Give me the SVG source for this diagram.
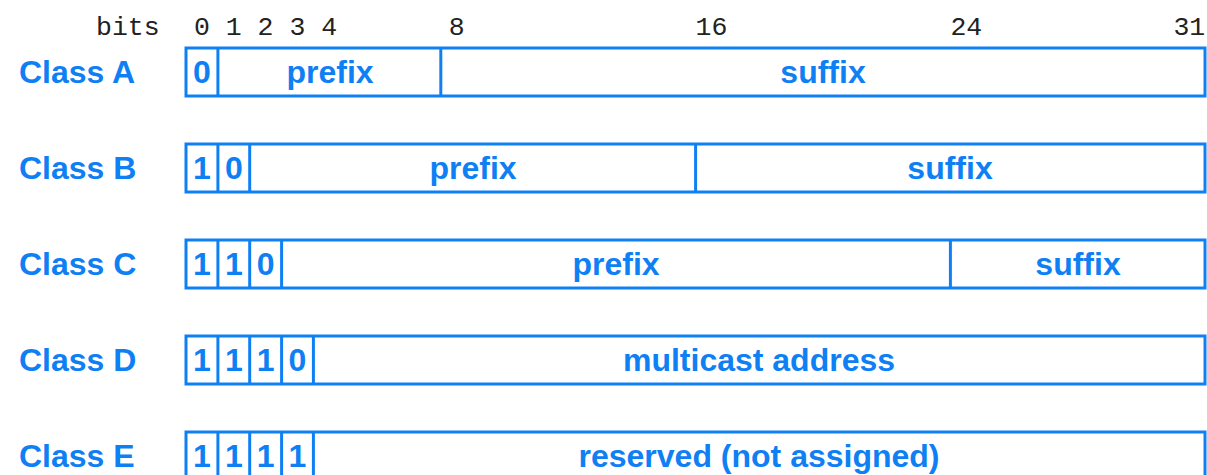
<svg xmlns="http://www.w3.org/2000/svg" width="1207" height="475" viewBox="0 0 1207 475">
<style>
.box{fill:#fff;stroke:#0f80f4;stroke-width:3}
.div{stroke:#0f80f4;stroke-width:3}
.lbl{font-family:"Liberation Sans",Arial,sans-serif;font-weight:bold;font-size:32px;fill:#0f80f4}
.f{font-family:"Liberation Sans",Arial,sans-serif;font-weight:bold;font-size:32px;fill:#0f80f4;text-anchor:middle}
.hd{font-family:"Liberation Mono","Courier New",monospace;font-size:26.5px;fill:#222}
</style>
<g id="header">
<text class="hd" x="96" y="35">bits</text>
<text class="hd" x="194" y="35">0 1 2 3 4</text>
<text class="hd" x="456.7" y="35" text-anchor="middle">8</text>
<text class="hd" x="711.5" y="35" text-anchor="middle">16</text>
<text class="hd" x="966.3" y="35" text-anchor="middle">24</text>
<text class="hd" x="1189.3" y="35" text-anchor="middle">31</text>
</g>
<g id="classA">
<text class="lbl" x="19" y="83">Class A</text>
<rect class="box" x="186" y="48" width="1019" height="48"/>
<line class="div" x1="217.9" y1="48" x2="217.9" y2="96"/>
<line class="div" x1="440.8" y1="48" x2="440.8" y2="96"/>
<text class="f" x="202" y="83">0</text>
<text class="f" x="330" y="83">prefix</text>
<text class="f" x="823" y="83">suffix</text>
</g>
<g id="classB">
<text class="lbl" x="19" y="179">Class B</text>
<rect class="box" x="186" y="144" width="1019" height="48"/>
<line class="div" x1="217.9" y1="144" x2="217.9" y2="192"/>
<line class="div" x1="249.7" y1="144" x2="249.7" y2="192"/>
<line class="div" x1="695.6" y1="144" x2="695.6" y2="192"/>
<text class="f" x="202" y="179">1</text>
<text class="f" x="233.8" y="179">0</text>
<text class="f" x="473" y="179">prefix</text>
<text class="f" x="950" y="179">suffix</text>
</g>
<g id="classC">
<text class="lbl" x="19" y="275">Class C</text>
<rect class="box" x="186" y="240" width="1019" height="48"/>
<line class="div" x1="217.9" y1="240" x2="217.9" y2="288"/>
<line class="div" x1="249.7" y1="240" x2="249.7" y2="288"/>
<line class="div" x1="281.6" y1="240" x2="281.6" y2="288"/>
<line class="div" x1="950.4" y1="240" x2="950.4" y2="288"/>
<text class="f" x="202" y="275">1</text>
<text class="f" x="233.8" y="275">1</text>
<text class="f" x="265.6" y="275">0</text>
<text class="f" x="616" y="275">prefix</text>
<text class="f" x="1078" y="275">suffix</text>
</g>
<g id="classD">
<text class="lbl" x="19" y="371">Class D</text>
<rect class="box" x="186" y="336" width="1019" height="48"/>
<line class="div" x1="217.9" y1="336" x2="217.9" y2="384"/>
<line class="div" x1="249.7" y1="336" x2="249.7" y2="384"/>
<line class="div" x1="281.6" y1="336" x2="281.6" y2="384"/>
<line class="div" x1="313.4" y1="336" x2="313.4" y2="384"/>
<text class="f" x="202" y="371">1</text>
<text class="f" x="233.8" y="371">1</text>
<text class="f" x="265.6" y="371">1</text>
<text class="f" x="297.5" y="371">0</text>
<text class="f" x="759" y="371">multicast address</text>
</g>
<g id="classE">
<text class="lbl" x="19" y="467">Class E</text>
<rect class="box" x="186" y="432" width="1019" height="48"/>
<line class="div" x1="217.9" y1="432" x2="217.9" y2="480"/>
<line class="div" x1="249.7" y1="432" x2="249.7" y2="480"/>
<line class="div" x1="281.6" y1="432" x2="281.6" y2="480"/>
<line class="div" x1="313.4" y1="432" x2="313.4" y2="480"/>
<text class="f" x="202" y="467">1</text>
<text class="f" x="233.8" y="467">1</text>
<text class="f" x="265.6" y="467">1</text>
<text class="f" x="297.5" y="467">1</text>
<text class="f" x="759" y="467">reserved (not assigned)</text>
</g>
<g id="connectors"/>
</svg>
